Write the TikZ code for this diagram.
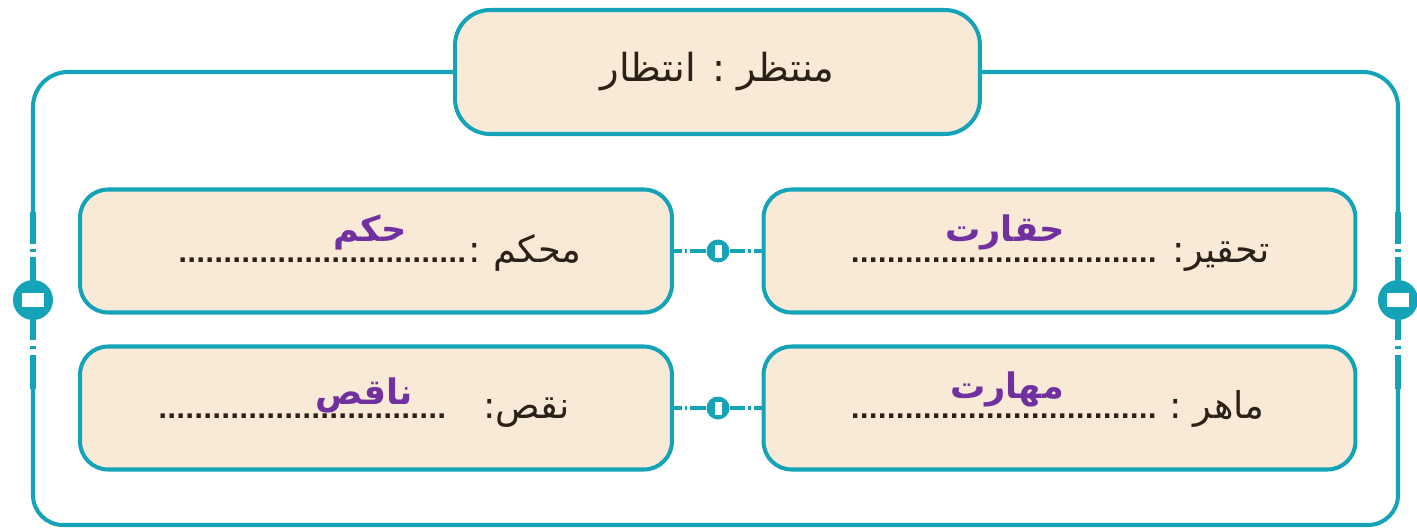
\documentclass[tikz,border=0pt]{standalone}
\usepackage{fontspec}
\newfontfamily\farsi[Script=Arabic]{DejaVu Sans}
\newfontfamily\dotsfont{DejaVu Sans Bold}
\TeXXeTstate=1
\definecolor{frameteal}{HTML}{15A3B7}
\definecolor{boxfill}{HTML}{F9EAD8}
\definecolor{ink}{HTML}{2A2118}
\definecolor{answerpurple}{HTML}{7030A0}
\newcommand\dotleader[1]{\hbox to #1{\cleaders\hbox to 0.18cm{\hss.\hss}\hfill}}
\tikzset{
  card/.style={draw=frameteal,line width=2.3pt,fill=boxfill,rounded corners=0.56cm,minimum width=11.84cm,minimum height=2.46cm},
  frame/.style={frameteal,line width=2.3pt},
  stem/.style={frameteal,line width=3.4pt},
  sideknob/.style={circle,fill=frameteal,inner sep=0pt,minimum size=0.8cm,
    path picture={\fill[white] ([xshift=-0.22cm,yshift=-0.14cm]path picture bounding box.center) rectangle ([xshift=0.22cm,yshift=0.14cm]path picture bounding box.center);}},
  midknob/.style={circle,fill=frameteal,inner sep=0pt,minimum size=0.46cm,
    path picture={\fill[white] ([xshift=-0.07cm,yshift=-0.13cm]path picture bounding box.center) rectangle ([xshift=0.07cm,yshift=0.13cm]path picture bounding box.center);}},
  word/.style={font=\farsi\fontsize{21}{25}\selectfont,text=ink,inner sep=0pt,anchor=base east},
  dotrow/.style={font=\dotsfont\fontsize{14}{16}\selectfont,text=ink,inner sep=0pt,anchor=base east},
  ans/.style={font=\farsi\bfseries\fontsize{20}{24}\selectfont,text=answerpurple,inner sep=0pt}
}
\begin{document}
\begin{tikzpicture}[x=0.02cm,y=-0.02cm]
  \useasboundingbox (0,0) rectangle (1417,528);
  \node[card,minimum width=10.5cm,minimum height=2.48cm,rounded corners=0.7cm,font=\farsi\fontsize{22}{26}\selectfont,text=ink] (title) at (717.5,72) {\beginR منتظر : انتظار\endR};
  \node[card] (tl) at (376,251) {};
  \node[card] (tr) at (1059.5,251) {};
  \node[card] (bl) at (376,408) {};
  \node[card] (br) at (1059.5,408) {};

  \node[sideknob] (lk) at (33,300) {};
  \node[sideknob] (rk) at (1398,300) {};
  \node[midknob] (tk) at (718,251) {};
  \node[midknob] (bk) at (718,408) {};
  \coordinate (l1) at (33,212);
  \coordinate (l2) at (33,389);
  \coordinate (r1) at (1398,212);
  \coordinate (r2) at (1398,389);
  \draw[frame,rounded corners=0.7cm] (title.west) -| (l1);
  \draw[frame,rounded corners=0.7cm] (title.east) -| (r1);
  \draw[frame,rounded corners=0.6cm] (l2) |- (717,525) -| (r2);
  \draw[stem,dash pattern=on 0.64cm off 0.1cm on 0.07cm off 0.1cm on 3cm] (l1) -- (lk);
  \draw[stem,dash pattern=on 0.68cm off 0.12cm on 0.06cm off 0.12cm on 3cm] (l2) -- (lk);
  \draw[stem,dash pattern=on 0.64cm off 0.1cm on 0.07cm off 0.1cm on 3cm] (r1) -- (rk);
  \draw[stem,dash pattern=on 0.68cm off 0.12cm on 0.06cm off 0.12cm on 3cm] (r2) -- (rk);
  \draw[frame,line width=1.8pt,dash pattern=on 0.16cm off 0.06cm on 0.05cm off 0.06cm on 2cm] (tl) -- (tk);
  \draw[frame,line width=1.8pt,dash pattern=on 0.16cm off 0.06cm on 0.05cm off 0.06cm on 2cm] (tr) -- (tk);
  \draw[frame,line width=1.8pt,dash pattern=on 0.16cm off 0.06cm on 0.05cm off 0.06cm on 2cm] (bl) -- (bk);
  \draw[frame,line width=1.8pt,dash pattern=on 0.16cm off 0.06cm on 0.05cm off 0.06cm on 2cm] (br) -- (bk);

  \node[word] (trw) at (1270,262) {\beginR تحقیر:\endR};
  \node[dotrow] (trd) at (1160,262) {\dotleader{6.24cm}};
  \node[ans] (tra) at (1005,232) {\beginR حقارت\endR};
  \node[word] (tlw) at (582,262) {\beginR محکم :\endR};
  \node[dotrow] (tld) at (470,262) {\dotleader{5.9cm}};
  \node[ans] (tla) at (370,232) {\beginR حکم\endR};
  \node[word] (brw) at (1265,418) {\beginR ماهر :\endR};
  \node[dotrow] (brd) at (1160,418) {\dotleader{6.24cm}};
  \node[ans] (bra) at (1007,389) {\beginR مهارت\endR};
  \node[word] (blw) at (570,418) {\beginR نقص:\endR};
  \node[dotrow] (bld) at (450,418) {\dotleader{5.9cm}};
  \node[ans] (bla) at (364,395) {\beginR ناقص\endR};
\end{tikzpicture}
\end{document}
